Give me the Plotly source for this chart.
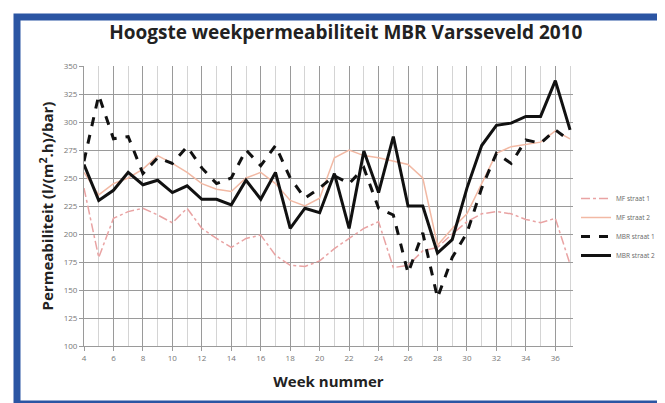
import plotly.graph_objects as go

weeks = list(range(4, 38))
mf_straat_1 = [241, 179, 214, 220, 223, 217, 210, 223, 205, 196, 188, 196, 199, 181, 172, 171,
               176, 187, 196, 205, 211, 170, 172, 185, 188, 200, 211, 218, 220, 218, 213, 210, 214, 173]
mf_straat_2 = [255, 235, 245, 250, 258, 270, 263, 255, 245, 240, 238, 250, 255, 245, 230, 225,
               232, 268, 275, 270, 268, 265, 262, 250, 190, 205, 218, 245, 272, 278, 280, 282, 292, 285]
mbr_straat_1 = [265, 324, 285, 287, 254, 268, 263, 278, 259, 245, 250, 275, 261, 279, 250, 232,
                241, 252, 245, 259, 223, 217, 165, 201, 143, 179, 201, 241, 272, 263, 284, 281, 293, 283]
mbr_straat_2 = [262, 230, 239, 255, 244, 248, 237, 243, 231, 231, 226, 248, 231, 255, 205, 223,
                219, 254, 205, 274, 237, 287, 225, 225, 183, 195, 241, 279, 297, 299, 305, 305, 337, 293]

x_ticks = list(range(4, 38, 2))
y_ticks = list(range(100, 351, 25))

fig = go.Figure()
fig.add_trace(go.Scatter(x=weeks, y=mf_straat_1, name="MF straat 1", mode="lines",
                         line=dict(color="#e9a3a3", width=1.5, dash="dashdot")))
fig.add_trace(go.Scatter(x=weeks, y=mf_straat_2, name="MF straat 2", mode="lines",
                         line=dict(color="#f2b9a4", width=1.5)))
fig.add_trace(go.Scatter(x=weeks, y=mbr_straat_1, name="MBR straat 1", mode="lines",
                         line=dict(color="#111111", width=3, dash="dash")))
fig.add_trace(go.Scatter(x=weeks, y=mbr_straat_2, name="MBR straat 2", mode="lines",
                         line=dict(color="#111111", width=3)))

L, R, T, B = 76, 100, 58, 65
pw, ph = 665 - L - R, 403 - T - B

def px(xp):
    return (xp - L) / pw

def py(yp):
    return (403 - B - yp) / ph

fig.add_shape(type="rect", xref="paper", yref="paper",
              x0=px(9), x1=px(657), y0=py(9), y1=py(396),
              line=dict(color="#2b55a3", width=7), layer="below")

fig.update_layout(
    width=665, height=403,
    margin=dict(l=L, r=R, t=T, b=B),
    paper_bgcolor="white", plot_bgcolor="white",
    title=dict(text="<b>Hoogste weekpermeabiliteit MBR Varsseveld 2010</b>",
               x=0.508, xanchor="center", y=0.94, yanchor="middle",
               font=dict(family="Open Sans", size=19, color="#222222")),
    xaxis=dict(range=[4, 37.2], tickvals=x_ticks, ticktext=[str(t) for t in x_ticks],
               showgrid=True, gridcolor="#9a9a9a", gridwidth=1,
               minor=dict(dtick=1, showgrid=True, gridcolor="#d4d4d4", gridwidth=1),
               zeroline=False, showline=True, linecolor="#9a9a9a",
               ticks="outside", ticklen=4, tickcolor="#9a9a9a",
               tickfont=dict(family="Open Sans", size=8, color="#777777"),
               title=dict(text="<b>Week nummer</b>", standoff=14,
                          font=dict(family="Open Sans", size=15, color="#222222"))),
    yaxis=dict(range=[100, 350], tickvals=y_ticks,
               showgrid=True, gridcolor="#9a9a9a", gridwidth=1,
               zeroline=False, showline=True, linecolor="#9a9a9a",
               ticks="outside", ticklen=4, tickcolor="#9a9a9a",
               tickfont=dict(family="Open Sans", size=8, color="#777777"),
               title=dict(text="<b>Permeabiliteit (l/(m<sup>2</sup>.h)/bar)</b>", standoff=6,
                          font=dict(family="Open Sans", size=15, color="#222222"))),
    legend=dict(x=px(568), y=py(176), xanchor="left", yanchor="top",
                font=dict(family="Open Sans", size=6.5, color="#666666"),
                bgcolor="rgba(0,0,0,0)", itemwidth=30, tracegroupgap=2),
    showlegend=True,
)

fig.write_html("out.html")
